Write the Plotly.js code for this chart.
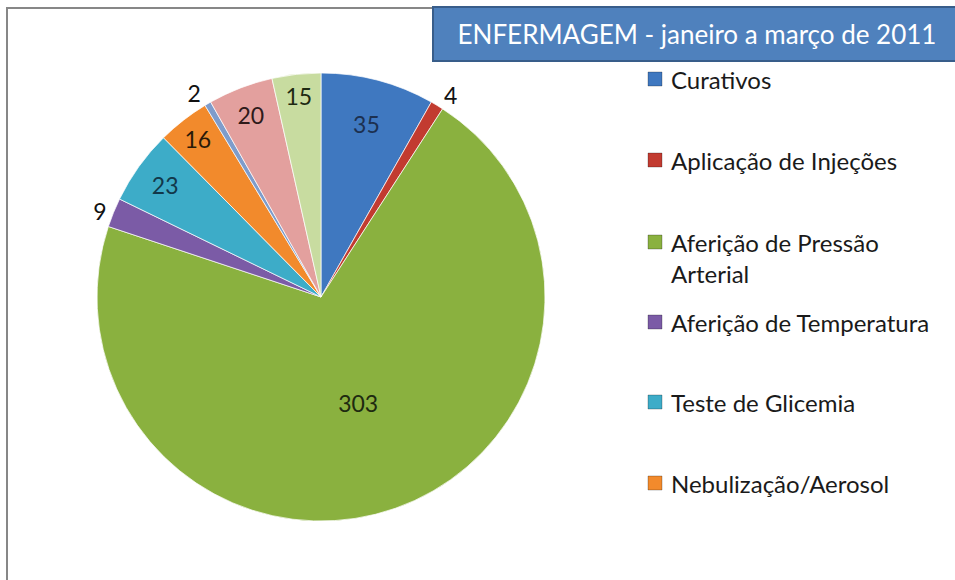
<!DOCTYPE html>
<html>
<head>
<meta charset="utf-8">
<script src="https://cdn.plot.ly/plotly-3.0.1.min.js"></script>
<style>
  html, body { margin: 0; padding: 0; background: #fff; }
  #plot { width: 955px; height: 580px; }
</style>
</head>
<body>
<div id="plot"></div>
<script>
// Enfermagem - procedimentos, janeiro a março de 2011
var labels = [
    "Curativos",
    "Aplicação de Injeções",
    "Aferição de Pressão<br>Arterial",
    "Aferição de Temperatura",
    "Teste de Glicemia",
    "Nebulização/Aerosol",
    "Outros (a)",
    "Outros (b)",
    "Outros (c)"
];
var values = [35, 4, 303, 9, 23, 16, 2, 20, 15];
var sliceColors = ["#3F78C0", "#C23B30", "#8AB13F", "#7B5BA6", "#3DACC8",
                   "#F28A2C", "#7E9CCB", "#E3A09E", "#C8DCA0"];
var textPos = ["inside", "outside", "inside", "outside", "inside",
               "inside", "outside", "inside", "inside"];
var textColors = ["#1c3050", "#111", "#1e2a10", "#111", "#12384a",
                  "#2a1a08", "#111", "#2e1a1a", "#1e2a12"];

// the legend in the original only had room for the first 6 entries
var legendShown = 6;

var W = 955, H = 580;
function px(x) { return x / W; }
function py(y) { return 1 - y / H; }

var trace1 = {
    type: "pie",
    labels: labels,
    values: values,
    sort: false,
    direction: "clockwise",
    rotation: 0,
    marker: {
        colors: sliceColors,
        line: { color: "rgba(255,255,255,0.7)", width: 1 }
    },
    textinfo: "value",
    textposition: textPos,
    insidetextorientation: "horizontal",
    textfont: { family: "Lato, sans-serif", size: 23, color: textColors },
    outsidetextfont: { family: "Lato, sans-serif", size: 23, color: "#111" },
    showlegend: false,
    domain: { x: [px(97), px(545)], y: [py(521), py(73)] }
};

var shapes = [
    // chart frame (cut off on the right and bottom)
    { type: "rect", xref: "paper", yref: "paper", layer: "below",
      x0: px(7), x1: px(1100), y0: py(8), y1: py(800),
      line: { color: "#878787", width: 2 }, fillcolor: "rgba(0,0,0,0)" },
    // title box
    { type: "rect", xref: "paper", yref: "paper", layer: "above",
      x0: px(433), x1: px(1000), y0: py(7), y1: py(61),
      line: { color: "#385D8A", width: 2 }, fillcolor: "#4F81BD" }
];

var annotations = [];
var legendY = [79, 160, 242, 322, 402, 483];
for (var i = 0; i < legendShown; i++) {
    var y = legendY[i];
    shapes.push({
        type: "rect", xref: "paper", yref: "paper", layer: "above",
        x0: px(648), x1: px(662), y0: py(y - 7), y1: py(y + 7),
        line: { color: "rgba(0,0,0,0.25)", width: 1 }, fillcolor: sliceColors[i]
    });
    annotations.push({
        xref: "paper", yref: "paper", showarrow: false,
        x: px(669), y: py(y - 16), xanchor: "left", yanchor: "top",
        align: "left", text: labels[i],
        font: { family: "Lato, sans-serif", size: 24, color: "#1a1a1a" }
    });
}

var layout = {
    width: W,
    height: H,
    margin: { l: 0, r: 0, t: 0, b: 0 },
    paper_bgcolor: "#fff",
    uniformtext: { mode: "show", minsize: 23 },
    title: {
        text: "ENFERMAGEM - janeiro a março de 2011",
        font: { family: "Lato, sans-serif", size: 26, color: "#fff" },
        x: px(697), xanchor: "center",
        y: py(35), yanchor: "middle"
    },
    shapes: shapes,
    annotations: annotations
};

Plotly.newPlot("plot", [trace1], layout, { displayModeBar: false });
</script>
</body>
</html>
